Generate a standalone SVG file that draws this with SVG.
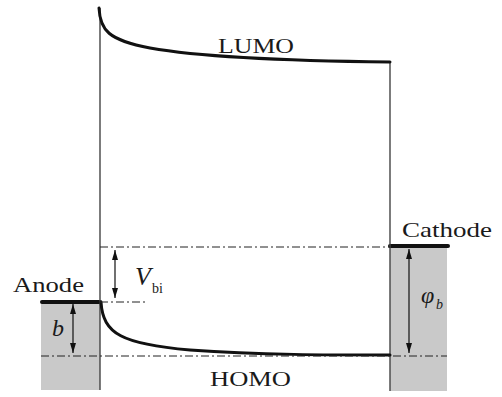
<svg xmlns="http://www.w3.org/2000/svg" width="502" height="397" viewBox="0 0 502 397">
<defs>
<marker id="ah" viewBox="0 0 10 6" refX="10" refY="3" markerWidth="10" markerHeight="6" markerUnits="userSpaceOnUse" orient="auto-start-reverse">
<path d="M0,0 L10,3 L0,6 Z" fill="#111"/>
</marker>
</defs>
<style>
text{font-family:'Liberation Serif','DejaVu Serif',serif;fill:#1a1a1a}
.lbl{font-size:22px}
.it{font-style:italic}
.sub{font-size:14px}
.dd{stroke:#222;stroke-width:1;fill:none;stroke-dasharray:8 3 2 3}
.band{stroke:#111;stroke-width:3;fill:none;stroke-linecap:round}
.wall{stroke:#444;stroke-width:1.4;fill:none}
.elec{stroke:#111;stroke-width:4;stroke-linecap:round}
.arr{stroke:#111;stroke-width:1.2;marker-start:url(#ah);marker-end:url(#ah)}
.metal{fill:#c9c9c9}
</style>
<g id="anode">
<rect class="metal" x="41" y="302" width="59" height="88"/>
<line class="elec" x1="42" y1="302" x2="100" y2="302"/>
<text class="lbl" x="13" y="292" textLength="71" lengthAdjust="spacingAndGlyphs">Anode</text>
</g>
<g id="cathode">
<rect class="metal" x="390" y="246" width="57" height="145"/>
<line class="elec" x1="390" y1="246" x2="448" y2="246"/>
<text class="lbl" x="402" y="237" textLength="90" lengthAdjust="spacingAndGlyphs">Cathode</text>
</g>
<g id="organic">
<line class="wall" x1="100" y1="8" x2="100" y2="390"/>
<line class="wall" x1="390" y1="62" x2="390" y2="391"/>
</g>
<g id="lumo">
<path class="band" d="M99,8 C100,30 108,40 150,48 C200,57 300,61 390,62"/>
<text class="lbl" x="218" y="53" textLength="76" lengthAdjust="spacingAndGlyphs">LUMO</text>
</g>
<g id="homo">
<path class="band" d="M101,302 C103,334 122,344 190,350 C260,355 330,355 390,355"/>
<text class="lbl" x="210" y="386" textLength="81" lengthAdjust="spacingAndGlyphs">HOMO</text>
</g>
<g id="connectors">
<line class="dd" x1="100" y1="247" x2="390" y2="247"/>
<line class="dd" x1="100" y1="302" x2="147" y2="302"/>
<line class="dd" x1="41" y1="356" x2="447" y2="356"/>
<line class="arr" x1="115" y1="250" x2="115" y2="298"/>
<line class="arr" x1="73" y1="304" x2="73" y2="353"/>
<line class="arr" x1="409" y1="249" x2="409" y2="353"/>
</g>
<g id="vbi">
<text class="it" x="135" y="285" font-size="26">V</text>
<text class="sub" x="152" y="293">bi</text>
</g>
<g id="b">
<text class="it" x="52" y="336" font-size="24">b</text>
</g>
<g id="phib">
<text class="it" x="421" y="303" font-size="24">φ</text>
<text class="it" x="436" y="309" font-size="14">b</text>
</g>
</svg>
